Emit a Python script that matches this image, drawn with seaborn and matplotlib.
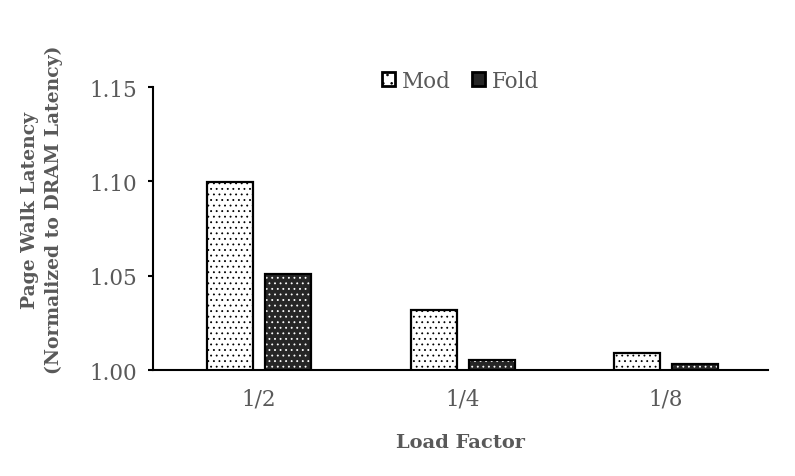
import pandas as pd
import seaborn as sns
import matplotlib.pyplot as plt
from matplotlib.patches import Rectangle

# values
load_factors = ['1/2', '1/4', '1/8']
mod_latency = [1.0996, 1.032, 1.0092]
fold_latency = [1.051, 1.0055, 1.003]
schemes = ['Mod', 'Fold']
y_ticks = [1.00, 1.05, 1.10, 1.15]

df = pd.DataFrame({
    'Load Factor': load_factors * 2,
    'Scheme': ['Mod'] * 3 + ['Fold'] * 3,
    'Latency': mod_latency + fold_latency,
})

sns.set_style('white')
plt.rcParams['font.family'] = ['DejaVu Serif']
plt.rcParams['hatch.linewidth'] = 0.6
grey = '#595959'
dark = '#262626'

fig = plt.figure(figsize=(7.95, 4.77), dpi=100)
ax = fig.add_axes([0.1925, 0.2222, 0.7735, 0.5933])

sns.barplot(data=df, x='Load Factor', y='Latency', hue='Scheme', order=load_factors,
            hue_order=schemes, palette={'Mod': 'white', 'Fold': dark},
            width=0.57, gap=0.207, edgecolor='black', linewidth=1.6, ax=ax, legend=False)

# dotted fill: black dots on Mod, white dots on Fold, then a black outline on top
bars = [p for p in ax.patches if isinstance(p, Rectangle)]
n = len(load_factors)
for i, p in enumerate(bars[:2 * n]):
    p.set_hatch('...')
    if i >= n:
        p.set_edgecolor('white')
        p.set_linewidth(0)
        ax.add_patch(Rectangle(p.get_xy(), p.get_width(), p.get_height(), fill=False,
                               edgecolor='black', linewidth=1.6, zorder=p.get_zorder() + 0.1))

ax.set_ylim(1.0, 1.15)
ax.set_xlim(-0.521, 2.501)
ax.set_yticks(y_ticks)
ax.set_yticklabels([f'{v:.2f}' for v in y_ticks])
for s in ['top', 'right']:
    ax.spines[s].set_visible(False)
for s in ['left', 'bottom']:
    ax.spines[s].set_color('black')
    ax.spines[s].set_linewidth(1.5)
ax.tick_params(axis='y', which='both', left=True, length=3.6, width=1.5, color='black',
               labelsize=15.5, labelcolor=grey, pad=8)
ax.tick_params(axis='x', bottom=False, labelsize=15.5, labelcolor=grey, pad=9)

ax.set_xlabel('Load Factor', fontsize=14, fontweight='bold', color=grey, labelpad=17)
ax.set_ylabel('Page Walk Latency\n(Normalized to DRAM Latency)', fontsize=13.5,
              fontweight='bold', color=grey, linespacing=1.45)
ax.yaxis.set_label_coords(-0.146, 0.569)

# legend with small dotted squares
handles = [Rectangle((0, 0), 1, 1, facecolor='white', edgecolor='black', linewidth=2, hatch='..'),
           Rectangle((0, 0), 1, 1, facecolor=dark, edgecolor='black', linewidth=2)]
leg = ax.legend(handles, schemes, loc='upper center', bbox_to_anchor=(0.5, 1.13), ncol=2,
                frameon=False, fontsize=15.5, handlelength=0.6, handleheight=0.6,
                handletextpad=0.3, columnspacing=1.0)
for t in leg.get_texts():
    t.set_color(grey)

fig.savefig('out.png', dpi=100)
